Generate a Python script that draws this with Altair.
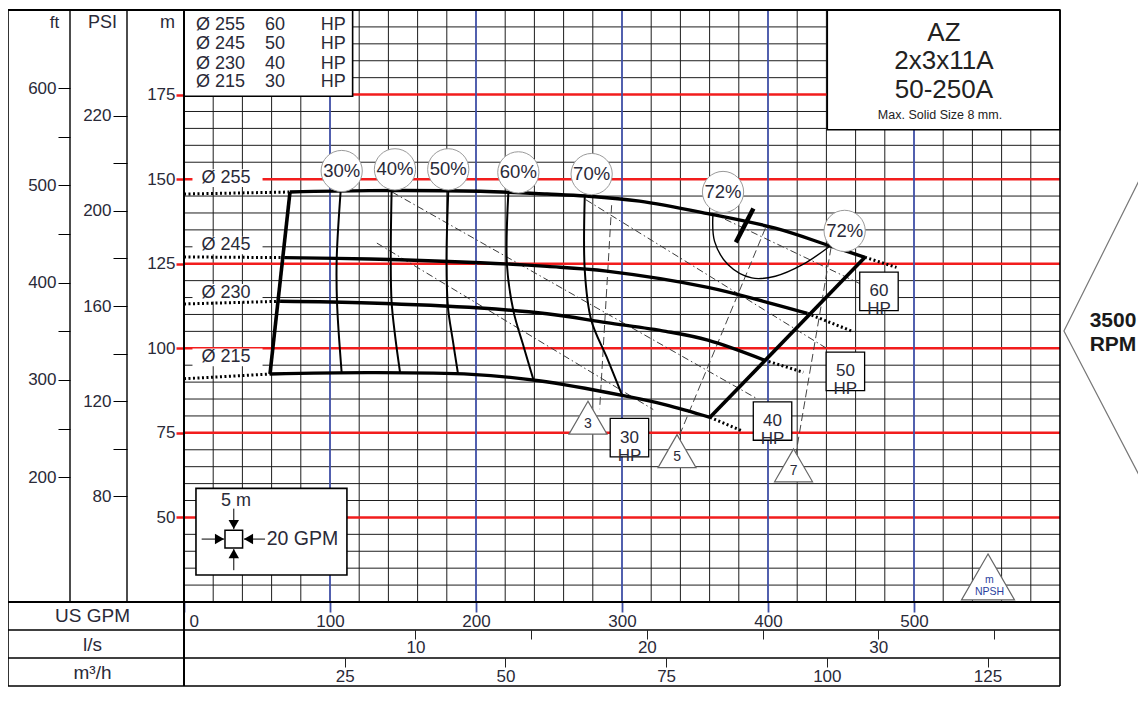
import json
import altair as alt
import pandas as pd

# ---------------- layout ----------------
W, H = 876, 592          # plot area
LEFT = 176               # left label columns (ft / PSI / m)
ROW = 28                 # height of each bottom scale row
FT_OFF, PSI_OFF = 114, 57

# ---------------- scales / ticks ----------------
GPM_DOMAIN = [0, 600]
M_DOMAIN = [25, 200]
FT_DOMAIN = [71.7, 680.2]        # ft scale as drawn on the sheet
GPM_PER_LS = 15.8503
GPM_PER_M3H = 4.40287
M_PER_PSI = 0.70307

GPM_TICKS = [0, 100, 200, 300, 400, 500]
M_TICKS = [50, 75, 100, 125, 150, 175]
FT_TICKS = [200, 250, 300, 350, 400, 450, 500, 550, 600]
FT_LABELS = ["200", "", "300", "", "400", "", "500", "", "600"]
PSI_TICKS = [80, 100, 120, 140, 160, 180, 200, 220, 240]
PSI_LABELS = ["80", "", "120", "", "160", "", "200", "", "220"]
LS_TICKS = [10, 15, 20, 25, 30, 35]
LS_LABELS = ["10", "", "20", "", "30", ""]
M3H_TICKS = [25, 50, 75, 100, 125]
M3H_LABELS = ["25", "50", "75", "100", "125"]

# ---------------- impeller curves (GPM, m) ----------------
DIAMETERS = ["Ø 255", "Ø 245", "Ø 230", "Ø 215"]
Q_255 = [72.6, 127, 203, 248.6, 275.5, 312, 358.8, 405, 443, 466.4]
H_255 = [146.2, 146.6, 146.4, 145.6, 145.0, 143.5, 139.8, 135.5, 130.2, 126.9]
Q_245 = [69, 127, 203, 248.6, 289.4, 358.8, 400, 427]
H_245 = [126.8, 126.4, 125.3, 124.2, 122.8, 118.0, 113.5, 110.3]
Q_230 = [65.8, 127, 203, 248.6, 289.4, 330, 358.8, 397.5]
H_230 = [113.9, 113.4, 111.9, 110.2, 107.6, 105.0, 102.4, 96.5]
Q_215 = [58.9, 127, 197, 243, 301, 330, 360.3]
H_215 = [92.4, 92.8, 92.3, 90.4, 86.0, 83.3, 79.6]
EXT_LEFT_H = [145.6, 127.0, 113.1, 91.0]        # dotted, at 0 GPM
EXT_RIGHT_Q = [488, 458.4, 424.2, 382]
EXT_RIGHT_H = [123.9, 104.9, 92.9, 75.6]
DIAM_LABEL_Q = [28.8, 28.8, 28.8, 28.8]
DIAM_LABEL_H = [150.3, 130.4, 116.4, 97.3]

# ---------------- efficiency curves ----------------
EFF_NAMES = ["30%", "40%", "50%", "60%", "70%"]
EFF_Q = [[107.3, 104.6, 104.8, 108.0],
         [142.2, 141.6, 142.2, 144.7, 148.0],
         [181.0, 179.8, 180.8, 184.1, 187.7],
         [222.2, 221.2, 225.7, 232.7, 239.5],
         [274.5, 274.5, 279.0, 289.4, 300.0]]
EFF_H = [[146.5, 126.6, 113.6, 92.7],
         [146.6, 126.5, 113.6, 103.3, 92.8],
         [146.4, 125.5, 112.1, 102.4, 92.4],
         [146.3, 124.7, 110.9, 100.4, 90.5],
         [145.1, 123.0, 108.2, 97.5, 86.2]]
ISLAND_Q = [362.3, 363.4, 372.7, 388.9, 405.0, 423.6, 442.1]
ISLAND_H = [139.8, 131.6, 124.7, 120.8, 121.3, 124.7, 130.1]
BEP_Q = [390.0, 378.0]
BEP_H = [141.3, 131.3]
PCT_TEXT = ["30%", "40%", "50%", "60%", "70%", "72%", "72%"]
PCT_Q = [108.0, 144.5, 181.0, 229.0, 279.2, 369.2, 452.5]
PCT_H = [152.4, 152.9, 152.9, 152.0, 151.5, 146.2, 134.7]

# ---------------- power lines ----------------
HP_VALUES = [30, 40, 50, 60]
HP_Q0 = [132.1, 142.5, 275.3, 361.6]
HP_H0 = [131.1, 146.2, 143.9, 140.0]
HP_Q1 = [321.4, 392.5, 439.7, 463.0]
HP_H1 = [81.9, 85.1, 100.1, 119.1]
HP_BOX_Q = [305.1, 403.1, 453.0, 476.0]
HP_BOX_H = [73.6, 78.5, 93.2, 116.8]

# ---------------- NPSH lines ----------------
NPSH_VALUES = [3, 5, 7]
NPSH_Q0 = [292.9, 398.2, 443.2]
NPSH_H0 = [142.3, 135.5, 129.8]
NPSH_Q1 = [284.7, 339.0, 419.2]
NPSH_H1 = [82.0, 73.9, 69.0]
NPSH_TRI_Q = [276.7, 337.7, 417.5]
NPSH_TRI_H = [79.5, 69.6, 65.4]

# ---------------- boxes / annotations ----------------
LEGEND_DIAM = ["Ø 255", "Ø 245", "Ø 230", "Ø 215"]
LEGEND_HP = ["60", "50", "40", "30"]
LEGEND_H = [195.7, 189.9, 184.1, 178.7]
LEGEND_COL_Q = [8.2, 55.5, 93.6]
LEGEND_BOX = [0, 115.5, 174.5, 200]
TITLE_LINES = ["AZ", "2x3x11A", "50-250A"]
TITLE_H = [193.2, 184.8, 176.4]
TITLE_Q = 520.5
SUBTITLE = "Max. Solid Size 8 mm."
SUBTITLE_POS = [517.8, 168.9]
TITLE_BOX = [440.6, 600, 164.6, 200]
SCALE_BOX = [8.2, 111.6, 33.0, 58.6]
SCALE_SQ = [34.1, 43.6]
SCALE_TEXT = ["5 m", "20  GPM"]
SCALE_TEXT_Q = [35.6, 56.6]
SCALE_TEXT_H = [55.0, 43.7]
ARROW_Q0 = [12.1, 55.5, 34.1, 34.1]
ARROW_H0 = [43.6, 43.6, 52.6, 34.4]
ARROW_Q1 = [27.4, 41.1, 34.1, 34.1]
ARROW_H1 = [43.6, 43.6, 46.5, 40.6]
HEAD_Q = [24.3, 44.2, 34.1, 34.1]
HEAD_H = [43.6, 43.6, 47.9, 39.3]
HEAD_SHAPE = ["triangle-right", "triangle-left", "triangle-down", "triangle-up"]
NPSH_KEY = [550.7, 32.4]
NPSH_KEY_TEXT = ["m", "NPSH"]
NPSH_KEY_H = [31.6, 27.9]
RPM_Q = [658, 602.7, 658]
RPM_H = [152.9, 105.1, 59.3]
RPM_TEXT = ["3500", "RPM"]
RPM_TEXT_Q = 636.3
RPM_TEXT_H = [108.0, 101.1]

RED = "#f21d1d"
BLUE = "#3f4fa6"
TXT = "#2a2a38"
FONT = "Liberation Sans"

XS = alt.Scale(domain=GPM_DOMAIN, nice=False, zero=False)
YS = alt.Scale(domain=M_DOMAIN, nice=False, zero=False)


def X(f, axis=None):
    return alt.X(f"{f}:Q", scale=XS, axis=axis)


def Y(f, axis=None):
    return alt.Y(f"{f}:Q", scale=YS, axis=axis)


def line_df(groups):
    rows = []
    for name, qs, hs in groups:
        for i, (q, h) in enumerate(zip(qs, hs)):
            rows.append({"c": name, "i": i, "q": q, "h": h})
    return pd.DataFrame(rows)


def lines(df, **mk):
    return alt.Chart(df).mark_line(**mk).encode(
        x=X("q"), y=Y("h"), detail="c:N", order=alt.Order("i:Q"))


def texts(df, **mk):
    return alt.Chart(df).mark_text(font=FONT, **mk).encode(
        x=X("q"), y=Y("h"), text="t:N")


def rects(df, **mk):
    return alt.Chart(df).mark_rect(**mk).encode(
        x=X("q0"), x2=alt.X2("q1"), y=Y("h0"), y2=alt.Y2("h1"))


layers = []

# grid
vgrid = pd.DataFrame({"q": [q for q in range(20, 600, 20) if q % 100]})
hgrid = pd.DataFrame({"h": [h for h in range(30, 200, 5) if h not in M_TICKS]})
layers.append(alt.Chart(vgrid).mark_rule(color="#1e1e1e", strokeWidth=1).encode(x=X("q")))
layers.append(alt.Chart(hgrid).mark_rule(color="#1e1e1e", strokeWidth=1).encode(y=Y("h")))
layers.append(alt.Chart(pd.DataFrame({"h": M_TICKS})).mark_rule(color=RED, strokeWidth=2.5).encode(y=Y("h")))
layers.append(alt.Chart(pd.DataFrame({"q": GPM_TICKS[1:]})).mark_rule(color=BLUE, strokeWidth=1.8).encode(x=X("q")))

# white boxes
box_df = pd.DataFrame([dict(zip(["q0", "q1", "h0", "h1"], b)) for b in (LEGEND_BOX, TITLE_BOX, SCALE_BOX)])
layers.append(rects(box_df, fill="white", stroke="black", strokeWidth=1.6))
lab_bg = pd.DataFrame({"q0": [q - 23 for q in DIAM_LABEL_Q], "q1": [q + 25 for q in DIAM_LABEL_Q],
                       "h0": [h - 2.6 for h in DIAM_LABEL_H], "h1": [h + 2.6 for h in DIAM_LABEL_H]})
layers.append(rects(lab_bg, color="white"))

# power & NPSH lines
hp_df = line_df([(f"{v}", [q0, q1], [h0, h1]) for v, q0, q1, h0, h1 in zip(HP_VALUES, HP_Q0, HP_Q1, HP_H0, HP_H1)])
layers.append(lines(hp_df, color="#3a3a3a", strokeWidth=1, strokeDash=[7, 3, 1.5, 3]))
np_df = line_df([(f"{v}", [q0, q1], [h0, h1]) for v, q0, q1, h0, h1 in zip(NPSH_VALUES, NPSH_Q0, NPSH_Q1, NPSH_H0, NPSH_H1)])
layers.append(lines(np_df, color="#444", strokeWidth=1, strokeDash=[8, 4]))

# impeller curves
QS = [Q_255, Q_245, Q_230, Q_215]
HS = [H_255, H_245, H_230, H_215]
imp_df = line_df(list(zip(DIAMETERS, QS, HS)))
layers.append(lines(imp_df, color="black", strokeWidth=3.4, interpolate="catmull-rom"))
ext = []
for k, name in enumerate(DIAMETERS):
    ext.append(("L" + name, [0, QS[k][0]], [EXT_LEFT_H[k], HS[k][0]]))
    ext.append(("R" + name, [QS[k][-1], EXT_RIGHT_Q[k]], [HS[k][-1], EXT_RIGHT_H[k]]))
layers.append(lines(line_df(ext), color="black", strokeWidth=3, strokeDash=[2, 2.5]))
bound_df = line_df([("L", [Q_255[0], Q_215[0]], [H_255[0], H_215[0]]),
                    ("R", [Q_255[-1], Q_215[-1]], [H_255[-1], H_215[-1]])])
layers.append(lines(bound_df, color="black", strokeWidth=3.6))

# efficiency
eff_df = line_df(list(zip(EFF_NAMES, EFF_Q, EFF_H)))
layers.append(lines(eff_df, color="black", strokeWidth=2, interpolate="catmull-rom"))
layers.append(lines(line_df([("isl", ISLAND_Q, ISLAND_H)]), color="black", strokeWidth=1.4, interpolate="catmull-rom"))
layers.append(lines(line_df([("bep", BEP_Q, BEP_H)]), color="black", strokeWidth=4.5))

pct_df = pd.DataFrame({"q": PCT_Q, "h": PCT_H, "t": PCT_TEXT})
layers.append(alt.Chart(pct_df).mark_circle(size=1700, fill="white", stroke="#9a9a9a", strokeWidth=1, opacity=1)
              .encode(x=X("q"), y=Y("h")))
layers.append(texts(pct_df, fontSize=18.5, color=TXT))

# HP boxes
hpb = pd.DataFrame({"q": HP_BOX_Q, "h": HP_BOX_H, "t": [f"{v}\nHP" for v in HP_VALUES]})
layers.append(alt.Chart(hpb).mark_square(size=1480, fill="white", stroke="black", strokeWidth=1.3, opacity=1)
              .encode(x=X("q"), y=Y("h")))
layers.append(texts(hpb, fontSize=17, lineBreak="\n", lineHeight=18, color=TXT, dy=0))

# NPSH triangles
tri = pd.DataFrame({"q": NPSH_TRI_Q, "h": NPSH_TRI_H, "t": [str(v) for v in NPSH_VALUES]})
layers.append(alt.Chart(tri).mark_point(shape="triangle-up", size=1444, filled=True, fill="white",
                                        stroke="#666", strokeWidth=1.2, opacity=1)
              .encode(x=X("q"), y=Y("h")))
layers.append(texts(tri, fontSize=14, color=TXT, dy=6))

# legend box text
leg_rows = []
for h, d, p in zip(LEGEND_H, LEGEND_DIAM, LEGEND_HP):
    for q, t in zip(LEGEND_COL_Q, (d, p, "HP")):
        leg_rows.append({"q": q, "h": h, "t": t})
layers.append(texts(pd.DataFrame(leg_rows), fontSize=18, align="left", color=TXT))

# diameter labels
layers.append(texts(pd.DataFrame({"q": DIAM_LABEL_Q, "h": DIAM_LABEL_H, "t": DIAMETERS}),
                    fontSize=18, color=TXT))

# title box
layers.append(texts(pd.DataFrame({"q": [TITLE_Q] * 3, "h": TITLE_H, "t": TITLE_LINES}), fontSize=26, color="#222"))
layers.append(texts(pd.DataFrame({"q": [SUBTITLE_POS[0]], "h": [SUBTITLE_POS[1]], "t": [SUBTITLE]}),
                    fontSize=12.5, color="#222"))

# scale key
arr = line_df([(str(k), [ARROW_Q0[k], ARROW_Q1[k]], [ARROW_H0[k], ARROW_H1[k]]) for k in range(4)])
layers.append(lines(arr, color="black", strokeWidth=1))
heads = pd.DataFrame({"q": HEAD_Q, "h": HEAD_H, "s": HEAD_SHAPE})
layers.append(alt.Chart(heads).mark_point(filled=True, color="black", size=110, opacity=1)
              .encode(x=X("q"), y=Y("h"), shape=alt.Shape("s:N", scale=None)))
layers.append(alt.Chart(pd.DataFrame({"q": [SCALE_SQ[0]], "h": [SCALE_SQ[1]]}))
              .mark_square(size=310, fill="white", stroke="black", strokeWidth=1.5, opacity=1)
              .encode(x=X("q"), y=Y("h")))
st = pd.DataFrame({"q": SCALE_TEXT_Q, "h": SCALE_TEXT_H, "t": SCALE_TEXT})
layers.append(texts(st.iloc[:1], fontSize=18, color=TXT))
layers.append(texts(st.iloc[1:], fontSize=19.5, color=TXT, align="left"))

# NPSH key
layers.append(alt.Chart(pd.DataFrame({"q": [NPSH_KEY[0]], "h": [NPSH_KEY[1]]}))
              .mark_point(shape="triangle-up", size=2809, filled=True, fill="white", stroke="#666",
                          strokeWidth=1.2, opacity=1).encode(x=X("q"), y=Y("h")))
layers.append(texts(pd.DataFrame({"q": [NPSH_KEY[0] + 1] * 2, "h": NPSH_KEY_H, "t": NPSH_KEY_TEXT}),
                    fontSize=10.5, color="#2b3f9e"))

# 3500 RPM marker
layers.append(lines(line_df([("rpm", RPM_Q, RPM_H)]), color="#777", strokeWidth=1.2))
layers.append(texts(pd.DataFrame({"q": [RPM_TEXT_Q] * 2, "h": RPM_TEXT_H, "t": RPM_TEXT}),
                    fontSize=21, fontWeight="bold", color="#1a1a1a"))


# ---------------- axes ----------------
def lookup(ticks, labels):
    return f"{json.dumps(labels)}[indexof({json.dumps(ticks)}, datum.value)]"


def ft_to_m(ft):
    return M_DOMAIN[0] + (ft - FT_DOMAIN[0]) * (M_DOMAIN[1] - M_DOMAIN[0]) / (FT_DOMAIN[1] - FT_DOMAIN[0])


common = dict(grid=False, domain=False, labelFont=FONT, titleFont=FONT, labelColor=TXT, titleColor=TXT,
              titleAngle=0, titleFontWeight="normal", titleAlign="center", titleBaseline="middle",
              labelFontSize=17)

ft_vals = [round(ft_to_m(v), 4) for v in FT_TICKS]
psi_vals = [round(v * M_PER_PSI, 4) for v in PSI_TICKS]
ls_vals = [round(v * GPM_PER_LS, 4) for v in LS_TICKS]
m3h_vals = [round(v * GPM_PER_M3H, 4) for v in M3H_TICKS]

gpm_axis = alt.Axis(values=GPM_TICKS, orient="bottom", title="US GPM", titleX=-92, titleY=13, titleFontSize=19,
                    tickSize=10, tickColor=BLUE, tickWidth=1.8, labelPadding=1, labelFlush=True,
                    labelFlushOffset=-5, **common)
m_axis = alt.Axis(values=M_TICKS, orient="left", title="m", titleX=-17, titleY=12, titleFontSize=18,
                  tickSize=8, tickColor=RED, tickWidth=2.5, labelPadding=1, **common)
ft_axis = alt.Axis(values=ft_vals, labelExpr=lookup(ft_vals, FT_LABELS), orient="left", offset=FT_OFF,
                   title="ft", titleX=-16, titleY=12, titleFontSize=17, tickSize=12, tickColor="black",
                   labelPadding=2, **common)
psi_axis = alt.Axis(values=psi_vals, labelExpr=lookup(psi_vals, PSI_LABELS), orient="left", offset=PSI_OFF,
                    title="PSI", titleX=-25, titleY=12, titleFontSize=18, tickSize=14, tickColor="black",
                    labelPadding=2, **common)
ls_axis = alt.Axis(values=ls_vals, labelExpr=lookup(ls_vals, LS_LABELS), orient="bottom", offset=ROW,
                   title="l/s", titleX=-92, titleY=14, titleFontSize=19, tickSize=9, tickColor="#222",
                   labelPadding=0, **common)
m3h_axis = alt.Axis(values=m3h_vals, labelExpr=lookup(m3h_vals, M3H_LABELS), orient="bottom", offset=2 * ROW,
                    title="m³/h", titleX=-92, titleY=14, titleFontSize=19, tickSize=9, tickColor="#222",
                    labelPadding=1, **common)

AX = pd.DataFrame({"q": [0], "h": [25]})
for xa, ya in ((gpm_axis, m_axis), (ls_axis, ft_axis), (m3h_axis, psi_axis)):
    layers.append(alt.Chart(AX).mark_point(opacity=0).encode(x=X("q", xa), y=Y("h", ya)))

# ---------------- frame lines (layout only) ----------------
FR = pd.DataFrame({"k": [0]})


def hrule(y, x0, x1, w=1.6):
    return alt.Chart(FR).mark_rule(color="black", strokeWidth=w).encode(
        x=alt.value(x0), x2=alt.value(x1), y=alt.value(y))


def vrule(x, y0, y1, w=1.6):
    return alt.Chart(FR).mark_rule(color="black", strokeWidth=w).encode(
        x=alt.value(x), y=alt.value(y0), y2=alt.value(y1))


BOT = H + 3 * ROW
for yy in (0, H, H + ROW, H + 2 * ROW, BOT):
    layers.append(hrule(yy, -LEFT, W, 2 if yy in (0, H) else 1.6))
for xx in (-LEFT, 0, W):
    layers.append(vrule(xx, 0, BOT, 2 if xx == 0 else 1.6))
for xx in (-FT_OFF, -PSI_OFF):
    layers.append(vrule(xx, 0, H, 1.4))

chart = alt.layer(*layers).resolve_axis(x="independent", y="independent").properties(
    width=W, height=H,
    autosize=alt.AutoSizeParams(type="none"),
    padding={"left": LEFT, "top": 2, "right": 78, "bottom": 86},
    background="white",
).configure_view(stroke=None)

chart.save("out.html", embed_options={"renderer": "svg", "actions": False})
